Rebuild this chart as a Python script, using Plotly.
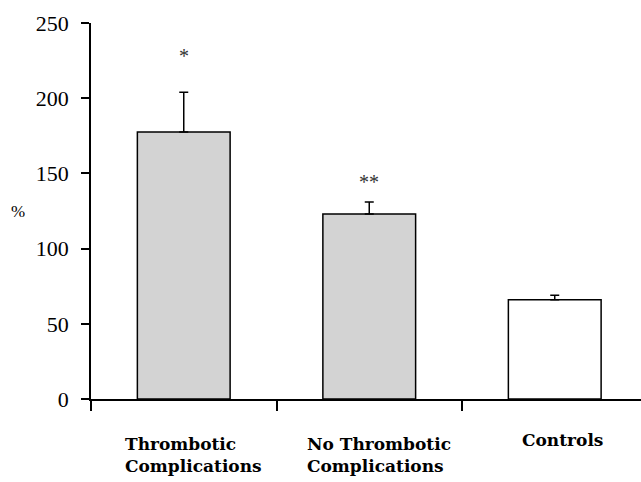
import plotly.graph_objects as go

categories = ["Thrombotic<br>Complications", "No Thrombotic<br>Complications", "Controls"]
values = [177.5, 123, 66]
errors_plus = [26.5, 8, 3]
bar_colors = ["#d3d3d3", "#d3d3d3", "#ffffff"]
significance = ["*", "**", ""]
sig_levels = [228, 144, None]
y_ticks = [0, 50, 100, 150, 200, 250]

xs = list(range(len(categories)))

fig = go.Figure()
fig.add_trace(go.Bar(
    x=xs, y=values, width=0.5,
    marker=dict(color=bar_colors, line=dict(color="black", width=1.5)),
    error_y=dict(type="data", array=errors_plus, arrayminus=[0] * len(values),
                 symmetric=False, color="black", thickness=1.5, width=4.5),
    showlegend=False,
))

annotations = []
for i, (s, lvl) in enumerate(zip(significance, sig_levels)):
    if s:
        annotations.append(dict(x=i, y=lvl, xref="x", yref="y", text=s, showarrow=False,
                                font=dict(family="Liberation Serif", size=20, color="#333333")))

label_offsets = [-0.325, -0.345, -0.19]
label_y = [-0.088, -0.088, -0.078]
for i, (lab, off, ly) in enumerate(zip(categories, label_offsets, label_y)):
    annotations.append(dict(x=i + off, y=ly, xref="x", yref="paper", text="<b>" + lab + "</b>",
                            showarrow=False, xanchor="left", yanchor="top", align="left",
                            font=dict(family="DejaVu Serif", size=17, color="black")))

annotations.append(dict(x=-0.5, y=125, xref="x", yref="y", text="%", showarrow=False,
                        xanchor="right", xshift=-64,
                        font=dict(family="Liberation Serif", size=17, color="#000000")))

fig.update_layout(
    width=641, height=482,
    margin=dict(l=91, r=0, t=23, b=83),
    plot_bgcolor="white", paper_bgcolor="white",
    annotations=annotations,
    xaxis=dict(range=[-0.5, 2.465], tickvals=[-0.5, 0.5, 1.5], ticks="outside", ticklen=10,
               tickwidth=1.5, tickcolor="black", showticklabels=False, showline=True,
               linecolor="black", linewidth=1.5, showgrid=False, zeroline=False),
    yaxis=dict(range=[0, 250], tickvals=y_ticks, ticks="outside", ticklen=8, tickwidth=1.5,
               tickcolor="black", showline=True, linecolor="black", linewidth=1.5,
               showgrid=False, zeroline=False, ticklabelstandoff=8,
               tickfont=dict(family="Liberation Serif", size=22, color="black")),
)

fig.write_html("out.html", config={"displayModeBar": False},
               post_script="document.body.style.margin='0';document.body.style.overflow='hidden';")
